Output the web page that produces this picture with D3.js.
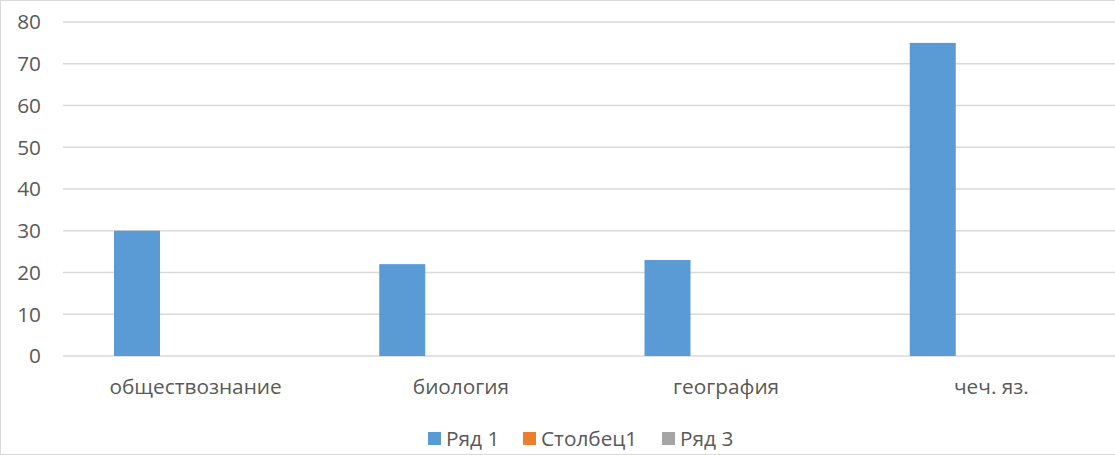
<html>
<head>
  <meta charset="utf-8">
  <script src="https://d3js.org/d3.v7.min.js"></script>
  <script>
    var categories = ["обществознание", "биология", "география", "чеч. яз."];
    var seriesNames = ["Ряд 1", "Столбец1", "Ряд 3"];
    var seriesColors = ["#5b9bd5", "#ed7d31", "#a5a5a5"];
    var row1 = [30, 22, 23, 75];
    var col1 = [0, 0, 0, 0];
    var row3 = [0, 0, 0, 0];
    var yTicks = [0, 10, 20, 30, 40, 50, 60, 70, 80];

    function makeChart() {
      var svg = d3.select("#chart");
      var font = "'Open Sans', sans-serif";
      var fs = 20.8;
      var series = [row1, col1, row3];

      svg.append("rect").attr("x", 0.5).attr("y", 0.5)
        .attr("width", 1130).attr("height", 454)
        .attr("fill", "white").attr("stroke", "#d9d9d9");

      var xSc = d3.scaleBand().domain(categories).range([63, 1124]);
      var xSub = d3.scaleBand().domain(seriesNames).range([51, 51 + 138]);
      var ySc = d3.scaleLinear().domain([0, 80]).range([356, 22]);

      // grid
      svg.append("g").selectAll("line").data(yTicks).enter()
        .append("line")
        .attr("x1", 63).attr("x2", 1115)
        .attr("y1", d => ySc(d)).attr("y2", d => ySc(d))
        .attr("stroke", "#d9d9d9").attr("stroke-width", 1.3);

      // y labels
      svg.append("g").selectAll("text").data(yTicks).enter()
        .append("text")
        .attr("x", 41).attr("y", d => ySc(d))
        .attr("dy", "0.35em").attr("text-anchor", "end")
        .attr("font-family", font).attr("font-size", fs)
        .attr("fill", "#595959").text(d => d);

      // bars
      series.forEach(function(vals, i) {
        svg.append("g").selectAll("rect").data(vals).enter()
          .append("rect")
          .attr("x", (d, j) => xSc(categories[j]) + xSub(seriesNames[i]))
          .attr("width", xSub.bandwidth())
          .attr("y", d => ySc(d))
          .attr("height", d => ySc(0) - ySc(d))
          .attr("fill", seriesColors[i]);
      });

      // x labels
      svg.append("g").selectAll("text").data(categories).enter()
        .append("text")
        .attr("x", d => xSc(d) + xSc.bandwidth() / 2).attr("y", 387)
        .attr("dy", "0.35em").attr("text-anchor", "middle")
        .attr("font-family", font).attr("font-size", fs)
        .attr("fill", "#595959").text(d => d);

      // legend
      var legX = [428, 523, 662];
      var lg = svg.append("g").selectAll("g").data(seriesNames).enter()
        .append("g").attr("transform", (d, i) => "translate(" + legX[i] + ",439)");
      lg.append("rect").attr("x", 0).attr("y", -7).attr("width", 13).attr("height", 13)
        .attr("fill", (d, i) => seriesColors[i]);
      lg.append("text").attr("x", 18).attr("y", 0).attr("dy", "0.35em")
        .attr("font-family", font).attr("font-size", fs)
        .attr("fill", "#595959").text(d => d);
    }
  </script>
</head>
<body onload="makeChart()" style="margin:0">
  <svg id="chart" width="1115" height="455"></svg>
</body>
</html>
